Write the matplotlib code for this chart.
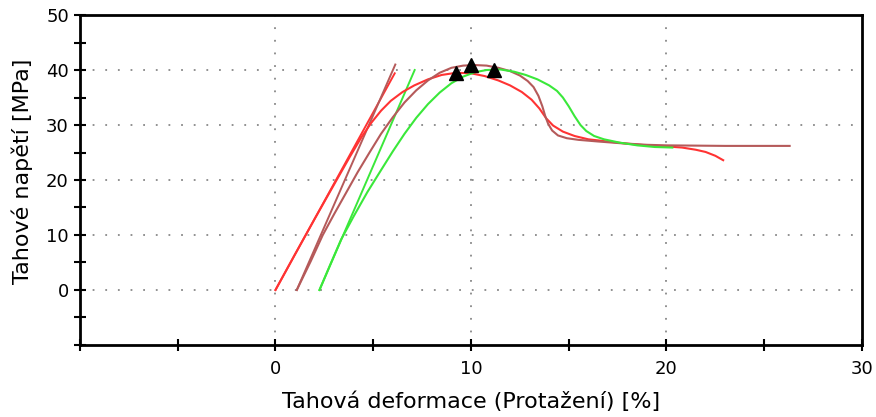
import matplotlib.pyplot as plt

# specimen 1 (red)
red_x = [0, 1, 2, 3, 3.8, 4.4, 4.9, 5.4, 5.9, 6.5, 7.1, 7.8, 8.5, 9.25, 10.0, 10.7, 11.4, 12.0, 12.6, 13.1,
         13.5, 13.85, 14.2, 14.7, 15.3, 16.0, 17.0, 18.0, 19.0, 20.0, 20.8, 21.5, 22.0, 22.5, 22.9]
red_y = [0, 6.5, 12.9, 19.2, 24.2, 27.8, 30.4, 32.6, 34.4, 36.0, 37.2, 38.3, 39.1, 39.5, 39.4, 38.9, 38.1, 37.2, 36.0, 34.6,
         33.0, 31.2, 29.9, 28.8, 28.0, 27.4, 27.0, 26.6, 26.3, 26.1, 25.9, 25.5, 25.1, 24.4, 23.6]
red_tx = [0, 6.1]
red_ty = [0, 39.4]

# specimen 2 (brown)
brn_x = [1.09, 1.8, 2.42, 3.0, 3.6, 4.2, 4.81, 5.4, 6.0, 6.6, 7.2, 7.8, 8.4, 9.0, 9.6, 10.2, 10.8, 11.4, 12.0, 12.5,
         12.9, 13.2, 13.45, 13.65, 13.8, 13.95, 14.15, 14.45, 14.9, 15.5, 16.5, 17.6, 19.0, 20.0, 23.0, 26.3]
brn_y = [0, 5.2, 10.0, 13.8, 17.6, 21.4, 25.0, 28.4, 31.4, 34.1, 36.3, 38.1, 39.5, 40.4, 40.8, 40.9, 40.8, 40.4, 39.8, 39.0,
         38.0, 36.9, 35.3, 33.4, 31.6, 30.2, 29.0, 28.1, 27.6, 27.3, 27.0, 26.7, 26.4, 26.3, 26.2, 26.2]
brn_tx = [1.09, 6.13]
brn_ty = [0, 41.0]

# specimen 3 (green)
grn_x = [2.25, 2.8, 3.36, 4.0, 4.7, 5.4, 6.0, 6.6, 7.2, 7.8, 8.4, 9.0, 9.6, 10.2, 10.8, 11.5, 12.2, 12.8, 13.4, 14.0,
         14.4, 14.7, 15.0, 15.3, 15.6, 15.9, 16.3, 16.8, 17.6, 18.5, 19.4, 20.3]
grn_y = [0, 4.6, 9.2, 13.4, 17.8, 21.8, 25.2, 28.4, 31.3, 33.8, 35.9, 37.6, 38.8, 39.6, 40.0, 40.1, 39.7, 39.1, 38.3, 37.2,
         36.2, 35.0, 33.4, 31.6, 30.0, 28.9, 28.0, 27.4, 26.8, 26.3, 26.0, 25.9]
grn_tx = [2.25, 7.12]
grn_ty = [0, 40.0]

# maximum stress markers
peak_x = [9.25, 9.98, 11.2]
peak_y = [39.4, 41.0, 40.0]

c_red = '#ff3333'
c_brn = '#b55a5a'
c_grn = '#3ae83a'

fig = plt.figure(figsize=(8.76, 4.17), dpi=100)
ax = fig.add_axes([0.0913, 0.1727, 0.8927, 0.7913])

ax.plot(red_tx, red_ty, color=c_red, lw=1.4)
ax.plot(brn_tx, brn_ty, color=c_brn, lw=1.4)
ax.plot(grn_tx, grn_ty, color=c_grn, lw=1.4)
ax.plot(red_x, red_y, color=c_red, lw=1.5)
ax.plot(brn_x, brn_y, color=c_brn, lw=1.5)
ax.plot(grn_x, grn_y, color=c_grn, lw=1.5)
ax.plot(peak_x, peak_y, '^', color='black', markersize=10, zorder=5)

ax.set_xlim(-10, 30)
ax.set_ylim(-10, 50)
ax.set_xticks(range(-10, 31, 5))
ax.set_xticklabels(['', '', '0', '', '10', '', '20', '', '30'])
ax.set_yticks(range(-10, 51, 5))
ax.set_yticklabels(['', '', '0', '', '10', '', '20', '', '30', '', '40', '', '50'])
ax.tick_params(direction='inout', length=9, width=1.5, labelsize=13, colors='black')
ax.tick_params(axis='x', pad=6)

for gx in [0, 10, 20]:
    ax.axvline(gx, color='#888888', lw=1.3, ls=(0, (1, 6)), zorder=0)
for gy in [0, 10, 20, 30, 40]:
    ax.axhline(gy, color='#888888', lw=1.3, ls=(0, (1, 6)), zorder=0)

for s in ax.spines.values():
    s.set_linewidth(2)

ax.set_xlabel('Tahová deformace (Protažení) [%]', fontsize=16, labelpad=10)
ax.set_ylabel('Tahové napětí [MPa]', fontsize=16)
ax.yaxis.set_label_coords(-0.06, 0.525)

fig.savefig('out.png', dpi=100)
